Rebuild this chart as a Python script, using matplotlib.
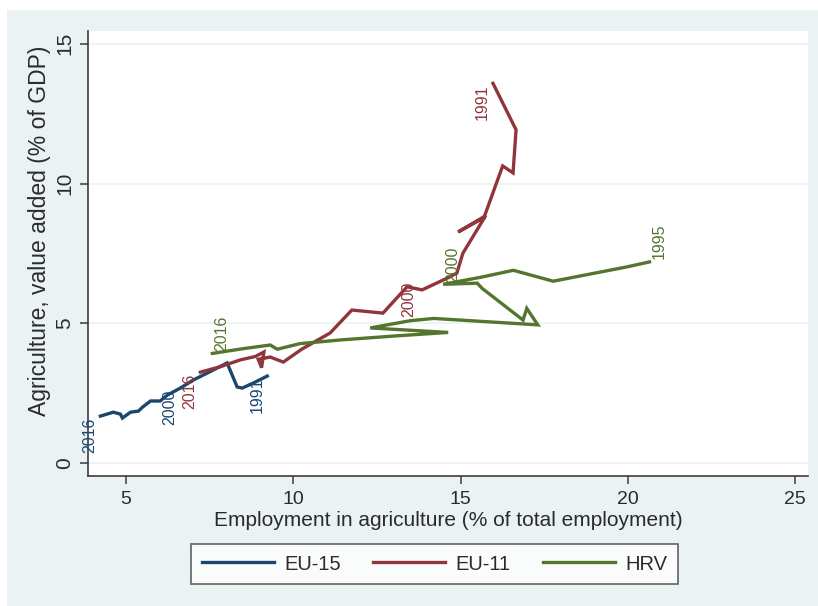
import matplotlib
matplotlib.use("Agg")
import matplotlib.pyplot as plt
from matplotlib.patches import Rectangle

plt.rcParams["font.family"] = ["Liberation Sans", "DejaVu Sans"]

# employment in agriculture (x) vs agriculture value added (y), 1991/1995 -> 2016
eu15_x = [9.22, 8.80, 8.47, 8.32, 8.02, 7.43, 7.01, 6.62, 6.23, 6.02, 5.73, 5.49,
          5.37, 5.13, 4.89, 4.83, 4.62, 4.23]
eu15_y = [3.12, 2.87, 2.69, 2.73, 3.59, 3.23, 2.98, 2.69, 2.44, 2.23, 2.23, 2.01,
          1.87, 1.83, 1.62, 1.76, 1.83, 1.69]

eu11_x = [15.97, 16.66, 16.57, 16.26, 15.70, 14.93, 15.75, 15.07, 14.89, 14.62,
          13.85, 13.40, 12.68, 11.75, 11.10, 10.25, 9.70, 9.31, 8.95, 9.05, 9.12,
          8.86, 8.42, 7.80, 7.22]
eu11_y = [13.58, 11.92, 10.38, 10.63, 8.78, 8.27, 8.85, 7.51, 6.80, 6.63,
          6.20, 6.31, 5.37, 5.48, 4.66, 4.08, 3.62, 3.80, 3.72, 3.42, 3.98,
          3.82, 3.70, 3.45, 3.26]

hrv_x = [20.65, 19.97, 17.77, 16.58, 15.60, 14.48, 15.50, 15.64, 16.87, 16.98,
         17.31, 14.20, 13.50, 12.30, 14.63, 13.00, 11.50, 10.20, 9.52, 9.31,
         8.50, 7.58]
hrv_y = [7.20, 7.02, 6.51, 6.90, 6.65, 6.40, 6.44, 6.26, 5.12, 5.54,
         4.95, 5.18, 5.10, 4.84, 4.68, 4.55, 4.42, 4.28, 4.08, 4.23,
         4.10, 3.93]

series = ["EU-15", "EU-11", "HRV"]
colors = ["#1a476f", "#90353b", "#55752f"]

# year labels: (series index, point index, text)
year_labels = [
    (0, 17, "2016"), (0, 7, "2000"), (0, 0, "1991"),
    (1, 24, "2016"), (1, 11, "2000"), (1, 0, "1991"),
    (2, 21, "2016"), (2, 5, "2000"), (2, 0, "1995"),
]

fig = plt.figure(figsize=(8.18, 6.06), dpi=100)
fig.patch.set_facecolor("white")
fig.patches.append(Rectangle((7 / 818, 0), 1 - 7 / 818, 1 - 10 / 606,
                             transform=fig.transFigure, fc="#eaf2f3", ec="none", zorder=0))

ax = fig.add_axes([88 / 818, 130 / 606, 720 / 818, 445 / 606])
ax.set_facecolor("white")
ax.set_zorder(1)

data = [(eu15_x, eu15_y), (eu11_x, eu11_y), (hrv_x, hrv_y)]
lines = []
for (xs, ys), name, c in zip(data, series, colors):
    (ln,) = ax.plot(xs, ys, color=c, linewidth=2.4, label=name, solid_joinstyle="miter")
    lines.append(ln)

# label placement: label ends at the point (left side) or starts at it (above)
for si, pi, txt in year_labels:
    xs, ys = data[si]
    if si == 2:
        ha, va, off = "left", "top", (1.5, 2)
    elif si == 1 and txt == "2000":
        ha, va, off = "right", "bottom", (6.5, 4)
    else:
        ha, va, off = "right", "bottom", (-2, -1)
    ax.annotate(txt, (xs[pi], ys[pi]), xytext=off, textcoords="offset points",
                rotation=90, rotation_mode="anchor", ha=ha, va=va,
                fontsize=11.5, color=colors[si])

ax.set_xlim(3.86, 25.39)
ax.set_ylim(-0.45, 15.45)
ax.set_xticks([5, 10, 15, 20, 25])
ax.set_yticks([0, 5, 10, 15])
ax.yaxis.grid(True, color="#eaf2f3", linewidth=1.2)
ax.set_axisbelow(True)

for s in ["top", "right"]:
    ax.spines[s].set_visible(False)
for s in ["left", "bottom"]:
    ax.spines[s].set_color("#3c3c3c")
    ax.spines[s].set_linewidth(1.2)

ax.tick_params(axis="both", direction="out", length=6, width=1.1, color="#3c3c3c",
               labelcolor="#2b2b2b", pad=5)
ax.tick_params(axis="x", labelsize=14)
ax.tick_params(axis="y", labelsize=15, pad=4)
for lab in ax.get_yticklabels():
    lab.set_rotation(90)
    lab.set_va("center")

ax.set_xlabel("Employment in agriculture (% of total employment)", fontsize=15,
              color="#2b2b2b", labelpad=2)
ax.set_ylabel("Agriculture, value added (% of GDP)", fontsize=16.5, color="#2b2b2b")
ax.yaxis.set_label_coords(-0.052, 0.55)

leg = fig.legend(lines, series, loc="center", ncol=3,
                 bbox_to_anchor=(434.5 / 818, 42 / 606), frameon=True, fancybox=False,
                 fontsize=14.5, handlelength=3.6, handletextpad=0.5, columnspacing=1.6,
                 borderpad=0.5, edgecolor="#3c3c3c")
leg.get_frame().set_linewidth(1.2)
for t in leg.get_texts():
    t.set_color("#2b2b2b")

fig.savefig("out.png", dpi=100)
